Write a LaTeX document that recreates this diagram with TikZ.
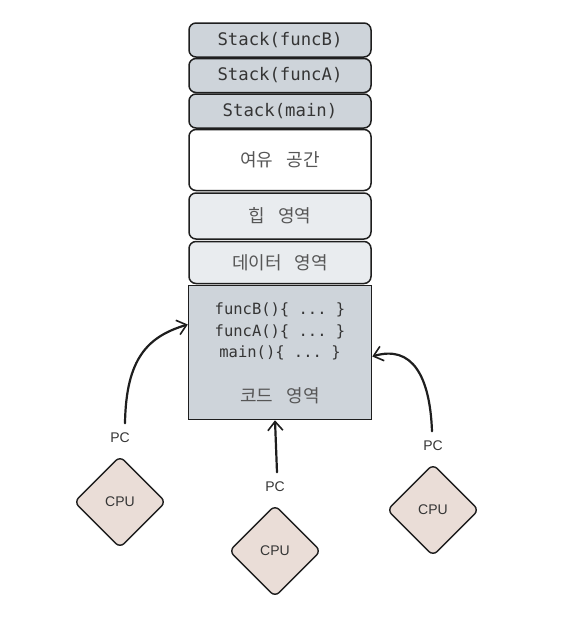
\documentclass[tikz,border=0pt]{standalone}
\usepackage{xcolor}
\usepackage{fontspec}
\setmainfont{Liberation Sans}
\setmonofont{DejaVu Sans Mono}
\newfontfamily\kor[WordSpace=3.2]{Noto Sans CJK KR}
\usepackage{tikz}
\usetikzlibrary{shapes.geometric, arrows.meta, positioning, calc}

\definecolor{stackgray}{HTML}{CED4DA}
\definecolor{lightgray}{HTML}{E9ECEF}
\definecolor{cpubg}{HTML}{EADDD7}
\definecolor{ink}{HTML}{1E1E1E}

\begin{document}
\begin{tikzpicture}[x=1pt, y=-1pt, node distance=0pt,
        seg/.style={rectangle, draw=ink, line width=1.5pt, rounded corners=7pt, minimum width=182pt, inner sep=0pt},
        stacktxt/.style={font=\ttfamily\fontsize{17.3}{19}\selectfont, text=ink!90},
        kortxt/.style={font=\kor\fontsize{18}{20}\selectfont, text=ink!75},
        cpu/.style={diamond, draw=ink, line width=1.4pt, rounded corners=6pt, fill=cpubg, minimum width=92pt, minimum height=92pt, inner sep=0pt, font=\fontsize{14}{16}\selectfont, text=ink!90},
        pc/.style={font=\fontsize{14}{16}\selectfont, text=ink!90},
        flow/.style={draw=ink, line width=2.2pt, line cap=round, -{Straight Barb[length=9pt, width=15pt, line width=1.6pt]}}]
        \useasboundingbox (0,0) rectangle (565,621);

        % memory layout
        \node (stackB) [seg, stacktxt, fill=stackgray, minimum height=34pt] at (280,40) {Stack(funcB)};
        \node (stackA) [seg, stacktxt, fill=stackgray, minimum height=34pt, below=of stackB] {Stack(funcA)};
        \node (stackM) [seg, stacktxt, fill=stackgray, minimum height=34pt, below=of stackA] {Stack(main)};
        \node (free) [seg, kortxt, fill=white, minimum height=61pt, below=of stackM] {여유 공간};
        \node (heap) [seg, kortxt, fill=lightgray, minimum height=46pt, below=1pt of free] {힙 영역};
        \node (data) [seg, kortxt, fill=lightgray, minimum height=42pt, below=1pt of heap] {데이터 영역};
        \node (code) [rectangle, draw=ink, line width=1.5pt, fill=stackgray, minimum width=183pt, minimum height=134pt, below=0.5pt of data] {};
        \node (funcs) [font=\ttfamily\fontsize{15.5}{21.5}\selectfont, text=ink!90, align=center, anchor=north, inner sep=0pt] at ($(code.north)+(0,18)$) {funcB()\{ ... \}\\funcA()\{ ... \}\\main()\{ ... \}};
        \node (codelbl) [kortxt] at ($(code.south)+(0,-24)$) {코드 영역};

        % cpus
        \node (cpuA) [cpu] at (120,502) {CPU};
        \node (cpuB) [cpu] at (275,551) {CPU};
        \node (cpuC) [cpu] at (433,510) {CPU};
        \node (pcA) [pc, above=9pt of cpuA] {PC};
        \node (pcB) [pc, above=9pt of cpuB] {PC};
        \node (pcC) [pc, above=9pt of cpuC] {PC};

        \draw[flow] ($(pcA.north)+(5,-6)$) .. controls +(1,-65) and +(-40,12) .. ($(code.west)+(0,-28)$);
        \draw[flow] ($(pcB.north)+(2,-6)$) -- (code.south -| pcB.north);
        \draw[flow] ($(pcC.north)+(-1,-6)$) .. controls +(-2,-55) and +(40,-12) .. ($(code.east)+(0,4)$);
    \end{tikzpicture}
\end{document}
